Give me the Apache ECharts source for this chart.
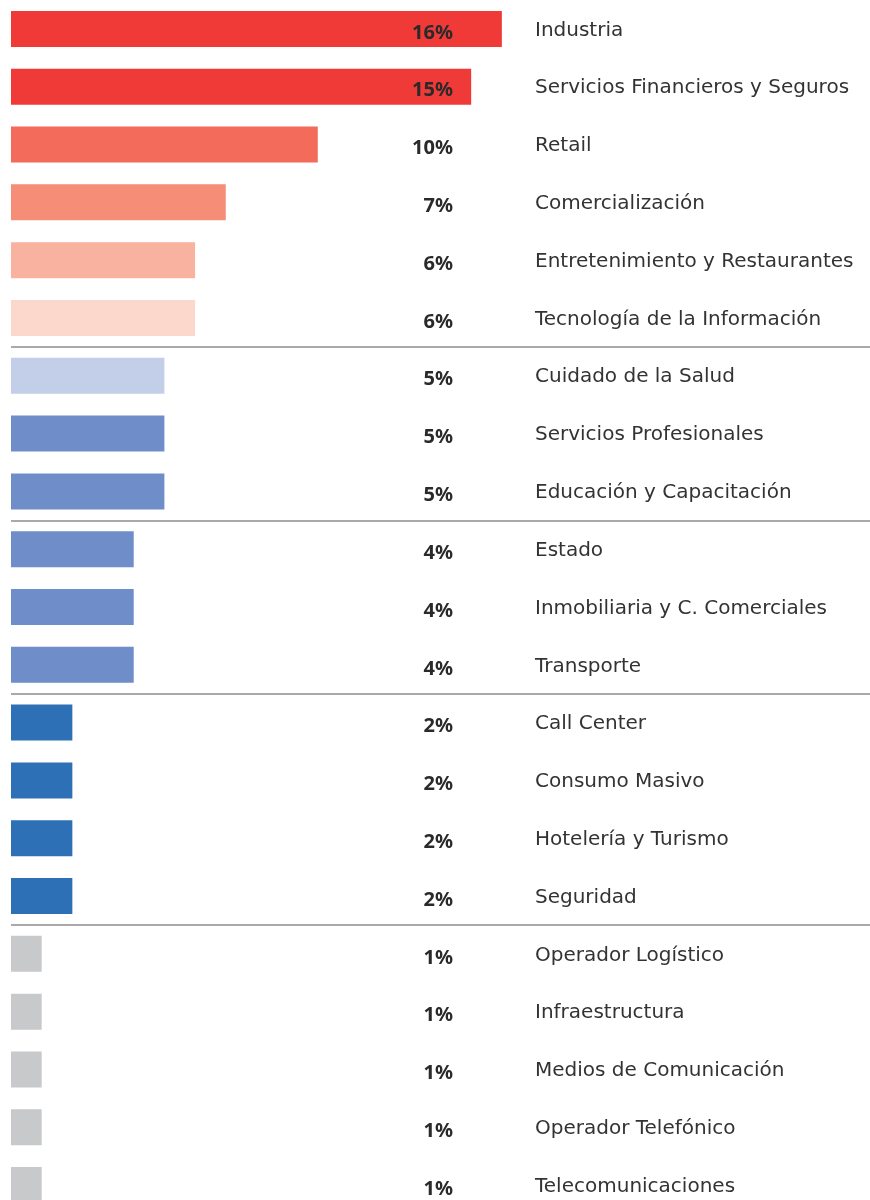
<!DOCTYPE html>
<html>
<head>
<meta charset="utf-8">
<script src="https://cdn.jsdelivr.net/npm/echarts@6/dist/echarts.min.js"></script>
<style>
  html, body { margin: 0; padding: 0; background: #fff; overflow: hidden; }
  #main { width: 870px; height: 1214px; }
</style>
</head>
<body>
<div id="main"></div>
<script>
// categorías (de arriba hacia abajo)
var categories = [
  "Industria",
  "Servicios Financieros y Seguros",
  "Retail",
  "Comercialización",
  "Entretenimiento y Restaurantes",
  "Tecnología de la Información",
  "Cuidado de la Salud",
  "Servicios Profesionales",
  "Educación y Capacitación",
  "Estado",
  "Inmobiliaria y C. Comerciales",
  "Transporte",
  "Call Center",
  "Consumo Masivo",
  "Hotelería y Turismo",
  "Seguridad",
  "Operador Logístico",
  "Infraestructura",
  "Medios de Comunicación",
  "Operador Telefónico",
  "Telecomunicaciones"
];
var values = [16, 15, 10, 7, 6, 6, 5, 5, 5, 4, 4, 4, 2, 2, 2, 2, 1, 1, 1, 1, 1];
// índices donde empieza un nuevo grupo (línea separadora)
var groupStarts = [6, 9, 12, 16];

var barColors = [
  "#ef3a38", "#ef3a38", "#f26b5b", "#f58d77", "#f9b29f", "#fcd7cb",
  "#c3cee8", "#6e8dc9", "#6e8dc9", "#6e8dc9", "#6e8dc9", "#6e8dc9",
  "#2d70b6", "#2d70b6", "#2d70b6", "#2d70b6",
  "#c8c9cb", "#c8c9cb", "#c8c9cb", "#c8c9cb", "#c8c9cb"
];

var myChart = echarts.init(document.getElementById("main"));

var option = {
  animation: false,
  grid: { left: 11, right: 0, top: 0, bottom: 0 },
  xAxis: { type: "value", min: 0, max: 28, show: false, splitLine: { show: false } },
  yAxis: [
    {
      type: "category",
      inverse: true,
      data: categories,
      z: 5,
      axisLine: { show: false },
      axisTick: { show: false },
      axisLabel: {
        inside: true,
        align: "left",
        margin: 524,
        formatter: function (name) {
          return "{a|" + name + "}";
        },
        rich: {
          a: {
            padding: [3, 0, 0, 0],
            color: "#333333",
            fontSize: 20,
            fontFamily: "DejaVu Sans"
          }
        }
      },
      splitLine: {
        show: true,
        interval: function (index) {
          return groupStarts.indexOf(index) > -1;
        },
        lineStyle: { color: "#8c8c8c", width: 1.5 }
      }
    },
    {
      type: "category",
      inverse: true,
      position: "left",
      z: 5,
      data: values.map(function (v) { return v + "%"; }),
      axisLine: { show: false },
      axisTick: { show: false },
      axisLabel: {
        inside: true,
        align: "right",
        margin: 442,
        formatter: function (txt) {
          return "{b|" + txt + "}";
        },
        rich: {
          b: {
            padding: [8, 0, 0, 0],
            color: "#2a2a2a",
            fontSize: 20,
            fontWeight: "bold",
            fontFamily: "Noto Sans"
          }
        }
      }
    }
  ],
  series: [
    {
      type: "bar",
      yAxisIndex: 0,
      barWidth: 36,
      data: values.map(function (v, i) {
        return { value: v, itemStyle: { color: barColors[i] } };
      })
    }
  ]
};

option && myChart.setOption(option);
</script>
</body>
</html>
